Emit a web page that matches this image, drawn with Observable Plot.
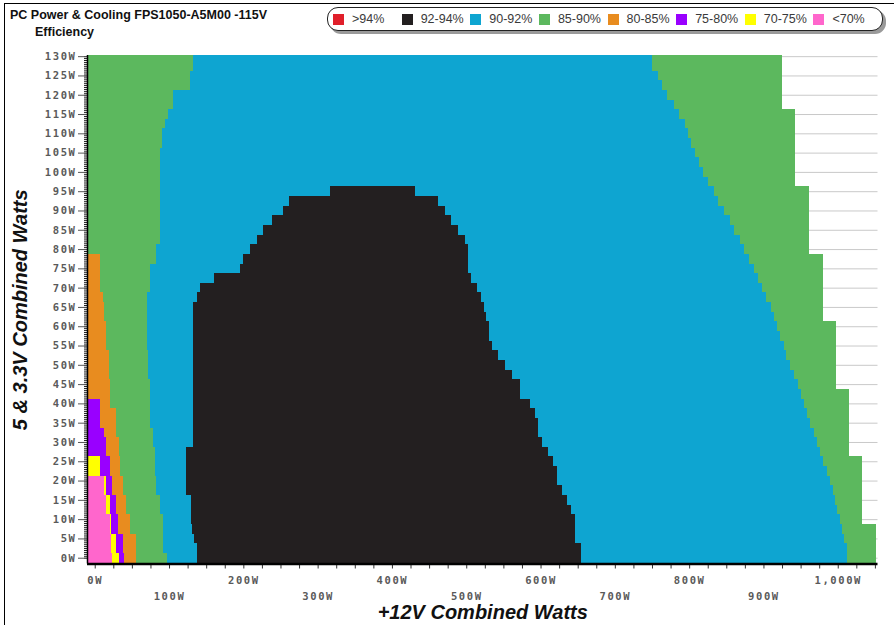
<!DOCTYPE html>
<html>
<head>
<meta charset="utf-8">
<script src="https://cdn.jsdelivr.net/npm/d3@7"></script>
<script src="https://cdn.jsdelivr.net/npm/@observablehq/plot@0.6"></script>
<style>
  html, body { margin: 0; padding: 0; background: white; }
  #page { position: relative; width: 894px; height: 625px; overflow: hidden; background: white; font-family: "Liberation Sans", Arial, sans-serif; }
  #frame { position: absolute; left: 4px; top: 3px; right: -10px; bottom: -10px; border: 1.5px solid #000; pointer-events: none; z-index: 5; }
  #title { position: absolute; left: 10px; top: 7px; font-size: 12.5px; font-weight: bold; color: #111; line-height: 17px; }
  #title .sub { padding-left: 25px; }
  #legend { position: absolute; left: 327px; top: 7px; width: 556px; height: 24px; border: 1.5px solid #222; border-radius: 11px; box-shadow: 3px 3px 0 #9a9a9a; background: white; display: flex; align-items: center; padding-left: 5px; box-sizing: border-box; }
  .item { display: flex; align-items: center; width: 70.2px; font-size: 12.5px; color: #3a3a3a; white-space: nowrap; }
  .sw { width: 11px; height: 11px; margin-right: 8px; flex: none; }
  #chart { position: absolute; left: 0; top: 40px; }
</style>
</head>
<body>
<div id="page">
  <div id="title">PC Power &amp; Cooling FPS1050-A5M00 -115V<br><span class="sub">Efficiency</span></div>
  <div id="legend"></div>
  <div id="chart"></div>
  <div id="frame"></div>
</div>
<script>
// ---- Data ----
const bandLabels = [">94%", "92-94%", "90-92%", "85-90%", "80-85%", "75-80%", "70-75%", "<70%"];
const bandColors = ["#e01f2a", "#231f20", "#0ea5d1", "#5cb85e", "#e88c1f", "#9900ff", "#ffff00", "#ff66cc"];

// 5V & 3.3V combined load (W) of each measured row
const rowsW = [0,2.5,5,7.5,10,12.5,15,17.5,20,22.5,25,27.5,30,32.5,35,37.5,40,42.5,45,47.5,50,52.5,55,57.5,60,62.5,65,67.5,70,72.5,75,77.5,80,82.5,85,87.5,90,92.5,95,97.5,100,102.5,105,107.5,110,112.5,115,117.5,120,122.5,125,127.5,130];

// +12V watts where each band ends, per row (missing = band absent in that row)
const xStart = -10.4;
const pinkEnd   = [23.8,21.5,21.5,20.2,20.2,14.8,14.8,12.1,12.1];
const yellowEnd = [32.7,28.3,28.3,22.4,22.4,20.2,20.2,15.7,15.7,7.6,7.6];
const purpleEnd = [39,38.1,38.1,31.4,31.4,28.3,28.3,23.8,23.8,20.2,20.2,14.8,14.8,12,6.7,6.7,6.7];
const orangeEnd = [55,55,55,48,48,42.6,42.6,38.1,38.1,34.6,34.6,32.7,32.7,28.3,28.3,28.3,21,21,21,19.3,19.3,19.3,15.7,15.7,15.7,12,12,11,6.7,6.7,6.7,6.7];
const greenEnd  = [97,92,92,92,92,87.5,87.5,83,83,81,81,81,78.5,78.5,74,74,74,74,74,72,72,72,70,70,70,70,70,70,74,74,74,83,83,87.5,87.5,87.5,87.5,87.5,87.5,87.5,87.5,87.5,87.5,91,91,94,98.7,105,105,128,128,132,132];
const blackStart = [137,137,134,131,129,129,129,123,123,123,123,123,132,132,132,132,132,132,132,132,132,132,132,132,132,132,132,137,142,160.5,196,200,208.6,218,226.5,239,253,262,317];
const blackEnd   = [655,655,647,647,647,641,635,629.5,622,622,617,610,602.5,597,597,592,586,572,572,561,552,543,535,531,531,526,524,520,514,507,502.5,502.5,502.5,499,489,480,471,462,431];
const blueEnd  = [1012,1012,1009,1006,1003,999,996,993,989,985,980,976,972,968,963,959,954,950,946,941,936,931,927,922,918,914,910,903,898,892,887,881,874,868,861,855,847,839,833,826,819,813.5,808.5,803,798.5,794,787,779,770,764,757.5,750,750];
const limitEnd = [1052,1052,1052,1052,1033,1033,1033,1033,1033,1033,1033,1015,1015,1015,1015,1015,1015,1015,997,997,997,997,997,997,997,980,980,980,980,980,980,980,961,961,961,961,961,961,961,943,943,943,943,943,943,943,943,925,925,925,925,925,925];

// axis ticks
const yTicks = [0,5,10,15,20,25,30,35,40,45,50,55,60,65,70,75,80,85,90,95,100,105,110,115,120,125,130];
const xLabelsRow1 = [0,200,400,600,800,1000];
const xLabelsRow2 = [100,300,500,700,900];
const xLabel = "+12V Combined Watts";
const yLabel = "5 & 3.3V Combined Watts";

// ---- Build cells ----
const xDomain = [xStart, 1053.5];
const yDomain = [-1.5, 130.3];
const half = 1.25;
const cells = [];
rowsW.forEach((y, i) => {
  const seq = [
    ["<70%", pinkEnd[i]],
    ["70-75%", yellowEnd[i]],
    ["75-80%", purpleEnd[i]],
    ["80-85%", orangeEnd[i]],
    ["85-90%", greenEnd[i]],
    ["90-92%", blackStart[i] !== undefined ? blackStart[i] : blueEnd[i]],
    ["92-94%", blackEnd[i]],
    ["90-92%", blueEnd[i]],
    ["85-90%", limitEnd[i]]
  ];
  let x = xStart;
  for (const [band, end] of seq) {
    if (end === undefined || end === null || end <= x) continue;
    cells.push({band, x1: x, x2: end, y1: i === 0 ? yDomain[0] : y - half, y2: y + half});
    x = end;
  }
});

// ---- Legend ----
const legend = document.getElementById("legend");
bandLabels.forEach((lab, i) => {
  const it = document.createElement("div");
  it.className = "item";
  it.innerHTML = `<span class="sw" style="background:${bandColors[i]}"></span><span>${lab.replace("<","&lt;").replace(">","&gt;")}</span>`;
  legend.appendChild(it);
});

const fmtW = d => d3.format(",")(d) + "W";
const tickFont = "DejaVu Sans Mono, monospace";

const chart = Plot.plot({
  width: 894,
  height: 585,
  marginTop: 15,
  marginBottom: 61.5,
  marginLeft: 87,
  marginRight: 16.5,
  x: {domain: xDomain},
  y: {domain: yDomain},
  color: {domain: bandLabels, range: bandColors},
  style: {background: "transparent", overflow: "visible", fontFamily: "Liberation Sans, Arial, sans-serif"},
  marks: [
    Plot.ruleY(yTicks, {stroke: "#c9c9c9", strokeWidth: 1}),
    Plot.rect(cells, {x1: "x1", x2: "x2", y1: "y1", y2: "y2", fill: "band", shapeRendering: "crispEdges", clip: true}),
    Plot.axisY({ticks: d3.range(0, 130.1, 0.5), tickSize: 3, tickFormat: () => "", label: null, stroke: "#222"}),
    Plot.axisY({ticks: yTicks, tickSize: 9, tickPadding: 2, tickFormat: fmtW, label: null, fontSize: 10.5, fontWeight: "bold", fontFamily: tickFont, color: "#5a5a5a", stroke: "#555"}),
    Plot.axisX({ticks: d3.range(0, 1051, 25), tickSize: 5, tickFormat: () => "", label: null, stroke: "#333"}),
    Plot.axisX({ticks: xLabelsRow1, tickSize: 0, tickPadding: 13, tickFormat: fmtW, label: null, fontSize: 10.5, fontWeight: "bold", fontFamily: tickFont, color: "#5a5a5a"}),
    Plot.axisX({ticks: xLabelsRow2, tickSize: 0, tickPadding: 29, tickFormat: fmtW, label: null, fontSize: 10.5, fontWeight: "bold", fontFamily: tickFont, color: "#5a5a5a"}),
    Plot.ruleX([xDomain[0]], {stroke: "#000", strokeWidth: 1.5}),
    Plot.ruleY([yDomain[0]], {stroke: "#000", strokeWidth: 2.5}),
    Plot.text([xLabel], {frameAnchor: "bottom", dy: 55, fontSize: 20, fontWeight: "bold", fontStyle: "italic", fill: "#111"}),
    Plot.text([yLabel], {frameAnchor: "left", textAnchor: "middle", dx: -67, rotate: -90, fontSize: 20, fontWeight: "bold", fontStyle: "italic", fill: "#111"})
  ]
});
document.getElementById("chart").appendChild(chart);
d3.select(chart).selectAll("g[aria-label$='tick label'] text").style("letter-spacing", "1.6px");
</script>
</body>
</html>
